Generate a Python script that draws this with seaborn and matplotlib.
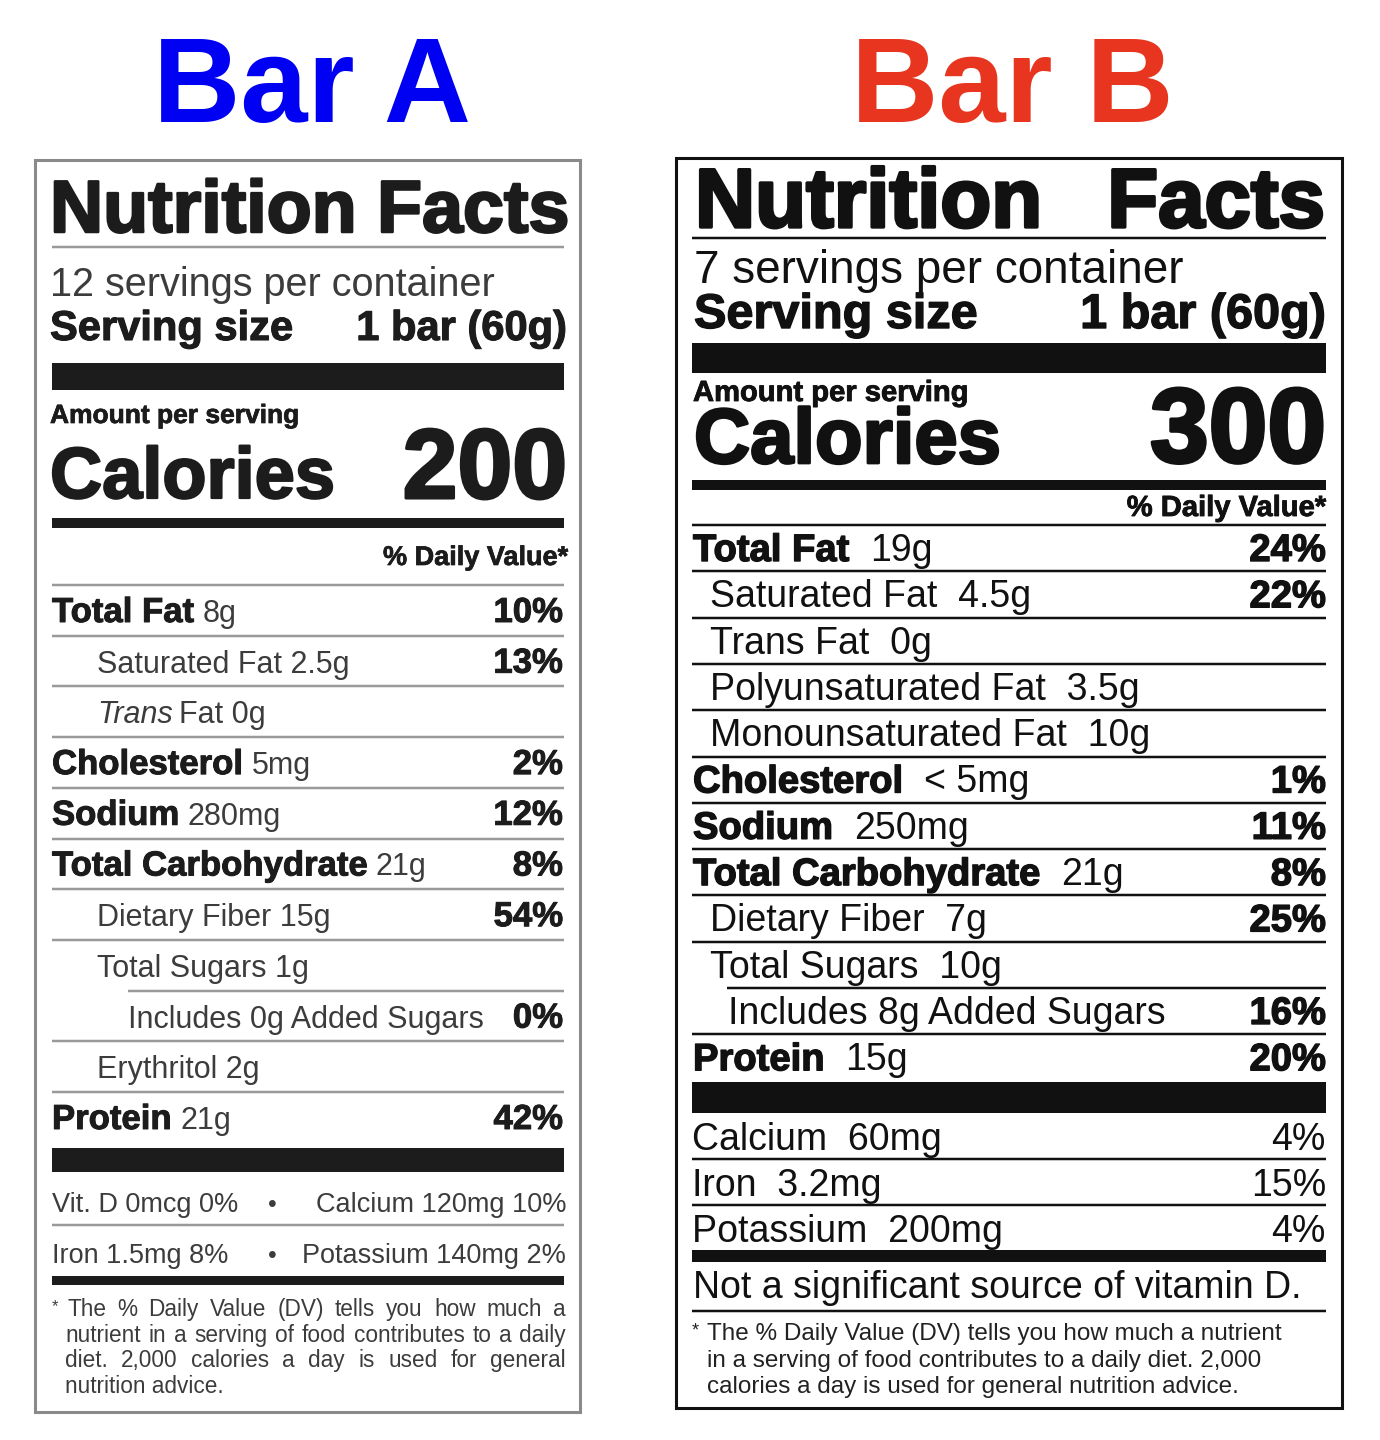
import matplotlib
matplotlib.use("Agg")
import matplotlib.pyplot as plt
import matplotlib.patheffects as pe
from matplotlib import font_manager as fm
import seaborn as sns

# ---------------- data ----------------
titles = ["Bar A", "Bar B"]
title_colors = ["#0000F2", "#E8351F"]
servings = ["12 servings per container", "7 servings per container"]
serving_size = ["1 bar (60g)", "1 bar (60g)"]
calories = ["200", "300"]

a_names = ["Total Fat", "Saturated Fat", "Trans Fat", "Cholesterol", "Sodium",
           "Total Carbohydrate", "Dietary Fiber", "Total Sugars",
           "Includes 0g Added Sugars", "Erythritol", "Protein"]
a_amounts = ["8g", "2.5g", "0g", "5mg", "280mg", "21g", "15g", "1g", "", "2g", "21g"]
a_dv = ["10%", "13%", "", "2%", "12%", "8%", "54%", "", "0%", "", "42%"]
a_level = [0, 1, 1, 0, 0, 0, 1, 1, 2, 1, 0]
a_min_left = ["Vit. D 0mcg 0%", "Iron 1.5mg 8%"]
a_min_right = ["Calcium 120mg 10%", "Potassium 140mg 2%"]
a_footnote = ["The % Daily Value (DV) tells you how much a",
              "nutrient in a serving of food contributes to a daily",
              "diet. 2,000 calories a day is used for general",
              "nutrition advice."]

b_names = ["Total Fat", "Saturated Fat", "Trans Fat", "Polyunsaturated Fat",
           "Monounsaturated Fat", "Cholesterol", "Sodium", "Total Carbohydrate",
           "Dietary Fiber", "Total Sugars", "Includes 8g Added Sugars", "Protein"]
b_amounts = ["19g", "4.5g", "0g", "3.5g", "10g", "< 5mg", "250mg", "21g", "7g", "10g", "", "15g"]
b_dv = ["24%", "22%", "", "", "", "1%", "11%", "8%", "25%", "", "16%", "20%"]
b_level = [0, 1, 1, 1, 1, 0, 0, 0, 1, 1, 2, 0]
b_min_names = ["Calcium", "Iron", "Potassium"]
b_min_amounts = ["60mg", "3.2mg", "200mg"]
b_min_dv = ["4%", "15%", "4%"]
b_vitd_note = "Not a significant source of vitamin D."
b_footnote = ["The % Daily Value (DV) tells you how much a nutrient",
              "in a serving of food contributes to a daily diet. 2,000",
              "calories a day is used for general nutrition advice."]

# ---------------- setup ----------------
sns.set_theme(style="white")
plt.rcParams["font.family"] = ["Liberation Sans", "DejaVu Sans"]

names_installed = {f.name for f in fm.fontManager.ttflist}
if "Liberation Sans Narrow" in names_installed:
    A_REG = ["Liberation Sans Narrow", "Liberation Sans"]
    A_REG_SIZE, A_MIN_SIZE, A_FOOT_SIZE = 25, 23, 18
else:
    A_REG = ["Liberation Sans", "DejaVu Sans"]
    A_REG_SIZE, A_MIN_SIZE, A_FOOT_SIZE = 22, 19.5, 16.3

fig = plt.figure(figsize=(13.8, 14.4), dpi=100)
ax = fig.add_axes([0, 0, 1, 1])
ax.set_xlim(0, 1380)
ax.set_ylim(1440, 0)
ax.axis("off")
sns.despine(ax=ax, left=True, bottom=True)
renderer = fig.canvas.get_renderer()

PX = 100 / 72.0


def txt(x, y, s, size, weight="normal", color="#111111", ha="left",
        family=None, style="normal", stroke=0.0):
    kw = dict(fontsize=size, fontweight=weight, color=color, ha=ha,
              va="baseline", fontstyle=style)
    if family is not None:
        kw["family"] = family
    t = ax.text(x, y, s, **kw)
    if stroke:
        t.set_path_effects([pe.withStroke(linewidth=stroke, foreground=color)])
    return t


def width(t):
    return t.get_window_extent(renderer=renderer).width


def hrule(y, x0, x1, color, px):
    ax.hlines(y, x0, x1, colors=color, linewidth=px * 0.72)


def slab(y0, y1, x0, x1, color):
    ax.barh([(y0 + y1) / 2.0], [x1 - x0], left=[x0], height=y1 - y0,
            color=color, edgecolor="none")


def justify(x0, x1, y, s, **kw):
    words = s.split()
    ts = [txt(0, y, w, **kw) for w in words]
    ws = [width(t) for t in ts]
    gap = (x1 - x0 - sum(ws)) / max(len(words) - 1, 1)
    x = x0
    for t, w in zip(ts, ws):
        t.set_x(x)
        x += w + gap


# ---------------- titles ----------------
txt(312, 122, titles[0], 87, "bold", title_colors[0], ha="center")
txt(1012, 122, titles[1], 87, "bold", title_colors[1], ha="center")

# ================= Label A =================
A_DARK = "#1c1c1c"
A_GREY = "#3c3c3c"
A_LINE = "#9a9a9a"
AX0, AX1 = 52, 564
ax.add_patch(plt.Rectangle((35, 160), 545, 1252, fill=False,
                           edgecolor="#8a8a8a", linewidth=2.2))

txt(50, 232, "Nutrition Facts", 53, "bold", A_DARK, stroke=1.8)
hrule(247, AX0, AX1, A_LINE, 2.5)
txt(50, 296, servings[0], 28.5, family=A_REG, color=A_GREY)
txt(50, 340, "Serving size", 30, "bold", A_DARK, stroke=0.8)
txt(567, 340, serving_size[0], 30, "bold", A_DARK, ha="right", stroke=0.8)
slab(363, 390, AX0, AX1, A_DARK)
txt(50, 423, "Amount per serving", 19, "bold", A_DARK, stroke=0.5)
txt(50, 498, "Calories", 52, "bold", A_DARK, stroke=1.6)
txt(567, 498, calories[0], 71, "bold", A_DARK, ha="right", stroke=2.2)
slab(518, 528, AX0, AX1, A_DARK)
txt(568, 565, "% Daily Value*", 19.5, "bold", A_DARK, ha="right", stroke=0.5)
hrule(585, AX0, AX1, A_LINE, 2.5)

A_TOP, A_STEP, A_BASE = 585, 50.7, 37
A_INDENT = {0: 52, 1: 97, 2: 128}
for i, (name, amt, dv, lvl) in enumerate(zip(a_names, a_amounts, a_dv, a_level)):
    y = A_TOP + i * A_STEP + A_BASE
    x = A_INDENT[lvl]
    if lvl == 0:
        t = txt(x, y, name, 25, "bold", A_DARK, stroke=0.7)
        txt(x + width(t) + 0.25 * 25 * PX, y, amt, A_REG_SIZE, family=A_REG, color=A_GREY)
    elif name.startswith("Trans "):
        t = txt(x, y, "Trans", A_REG_SIZE, family=A_REG, color=A_GREY, style="italic")
        txt(x + width(t) + 0.22 * A_REG_SIZE * PX, y, name[6:] + " " + amt,
            A_REG_SIZE, family=A_REG, color=A_GREY)
    else:
        s = name + (" " + amt if amt else "")
        txt(x, y, s, A_REG_SIZE, family=A_REG, color=A_GREY)
    if dv:
        txt(563, y, dv, 25, "bold", A_DARK, ha="right", stroke=0.7)
    if i < len(a_names) - 1:
        nxt = a_level[i + 1]
        x0 = A_INDENT[2] if nxt == 2 else AX0
        hrule(A_TOP + (i + 1) * A_STEP, x0, AX1, A_LINE, 2.5)

slab(1148, 1172, AX0, AX1, A_DARK)
for j, (l, r) in enumerate(zip(a_min_left, a_min_right)):
    y = 1212 + j * 51
    txt(52, y, l, A_MIN_SIZE, family=A_REG, color=A_GREY)
    txt(272, y, "\u2022", 18, color=A_GREY, ha="center")
    txt(566, y, r, A_MIN_SIZE, family=A_REG, color=A_GREY, ha="right")
hrule(1225, AX0, AX1, A_LINE, 2.5)
slab(1276, 1285, AX0, AX1, A_DARK)
txt(52, 1311, "*", 12, color=A_GREY)
for k, line in enumerate(a_footnote):
    y = 1316 + k * 25.7
    x0 = 67 if k == 0 else 65
    if k < len(a_footnote) - 1:
        justify(x0, 566, y, line, size=A_FOOT_SIZE, family=A_REG, color=A_GREY)
    else:
        txt(x0, y, line, A_FOOT_SIZE, family=A_REG, color=A_GREY)

# ================= Label B =================
B_K = "#111111"
BX0, BX1 = 692, 1326
ax.add_patch(plt.Rectangle((676, 158), 666, 1250, fill=False,
                           edgecolor=B_K, linewidth=2.2))
txt(695, 227, "Nutrition", 60, "bold", B_K, stroke=2.4)
txt(1325, 227, "Facts", 60, "bold", B_K, ha="right", stroke=2.4)
hrule(238, BX0, BX1, B_K, 2.5)
txt(694, 283, servings[1], 33, color=B_K)
txt(694, 328, "Serving size", 35, "bold", B_K, stroke=1.0)
txt(1326, 328, serving_size[1], 35, "bold", B_K, ha="right", stroke=1.0)
slab(343, 373, BX0, BX1, B_K)
txt(693, 401, "Amount per serving", 21, "bold", B_K, stroke=0.6)
txt(694, 463, "Calories", 56, "bold", B_K, stroke=2.0)
txt(1326, 462, calories[1], 76, "bold", B_K, ha="right", stroke=2.6)
slab(480, 490, BX0, BX1, B_K)
txt(1326, 516, "% Daily Value*", 21, "bold", B_K, ha="right", stroke=0.6)
hrule(525, BX0, BX1, B_K, 2.5)

B_TOP, B_STEP, B_BASE = 525, 46.3, 36
B_INDENT = {0: 693, 1: 710, 2: 728}
for i, (name, amt, dv, lvl) in enumerate(zip(b_names, b_amounts, b_dv, b_level)):
    y = B_TOP + i * B_STEP + B_BASE
    x = B_INDENT[lvl]
    if lvl == 0:
        t = txt(x, y, name, 27.5, "bold", B_K, stroke=1.0)
        txt(x + width(t) + 0.55 * 27 * PX, y, amt, 27, color=B_K)
    else:
        s = name + ("  " + amt if amt else "")
        txt(x, y, s, 27, color=B_K)
    if dv:
        txt(1326, y, dv, 27.5, "bold", B_K, ha="right", stroke=1.0)
    if i < len(b_names) - 1:
        nxt = b_level[i + 1]
        x0 = B_INDENT[2] - 1 if nxt == 2 else BX0
        hrule(B_TOP + (i + 1) * B_STEP, x0, BX1, B_K, 2.5)

slab(1082, 1113, BX0, BX1, B_K)
for j, (n, a, d) in enumerate(zip(b_min_names, b_min_amounts, b_min_dv)):
    y = 1113 + j * 46 + 37
    txt(692, y, n + "  " + a, 27, color=B_K)
    txt(1326, y, d, 27, color=B_K, ha="right")
    if j < len(b_min_names) - 1:
        hrule(1113 + (j + 1) * 46, BX0, BX1, B_K, 2.5)
slab(1250, 1262, BX0, BX1, B_K)
txt(693, 1298, b_vitd_note, 27, color=B_K)
hrule(1311, BX0, BX1, B_K, 2.5)
txt(692, 1335, "*", 13, color="#222222")
for k, line in enumerate(b_footnote):
    txt(707, 1340 + k * 26.5, line, 17.5, color="#222222")

fig.savefig("out.png", dpi=100, facecolor="white")
